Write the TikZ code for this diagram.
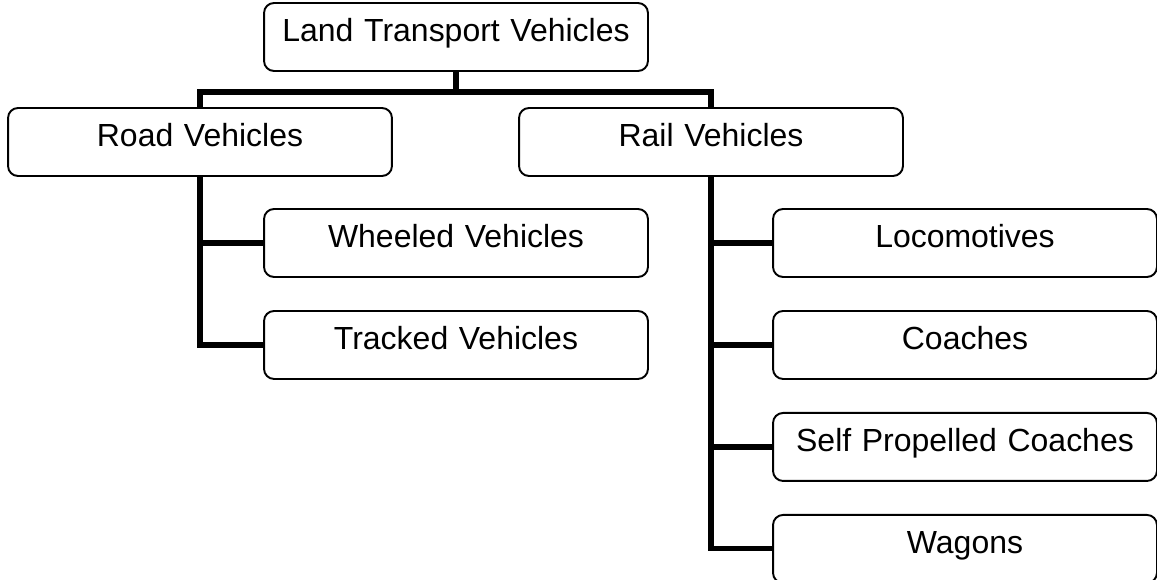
\documentclass[tikz,border=0pt]{standalone}
\usepackage{fontspec}
\setmainfont{Liberation Sans}
\usepackage{tikz}
\usetikzlibrary{positioning}
\tikzstyle{category} = [rectangle, rounded corners=0.2cm, draw=black, line width=1.1pt, fill=white, inner sep=0pt, outer sep=0pt, minimum width=7.68cm, text width=7.68cm, align=center, text height=0.78cm, text depth=0.58cm, font=\fontsize{18.2pt}{22pt}\selectfont]
\tikzstyle{conn} = [line width=2.9pt, black]

\begin{document}
\begin{tikzpicture}[x=0.02cm, y=-0.02cm]
\useasboundingbox (0,0) rectangle (1157,580);

\node (land) [category] at (456,37)
	{Land Transport Vehicles};
\node (road) [category] at (200,142)
	{Road Vehicles};
\node (rail) [category] at (711,142)
	{Rail Vehicles};

\node (wheeled) [category] at (456,243)
	{Wheeled Vehicles};
\node (tracked) [category, below=0.68cm of wheeled]
	{Tracked Vehicles};

\node (loco) [category] at (965,243)
	{Locomotives};
\node (coach) [category, below=0.68cm of loco]
	{Coaches};
\node (selfprop) [category, below=0.68cm of coach]
	{Self Propelled Coaches};
\node (wagon) [category, below=0.68cm of selfprop]
	{Wagons};

\draw [conn] (land.south) -- ++(0,21) -| (road.north);
\draw [conn] (land.south) -- ++(0,21) -| (rail.north);

\draw [conn] (road.south) |- (wheeled.west);
\draw [conn] (road.south) |- (tracked.west);

\draw [conn] (rail.south) |- (loco.west);
\draw [conn] (rail.south) |- (coach.west);
\draw [conn] (rail.south) |- (selfprop.west);
\draw [conn] (rail.south) |- (wagon.west);

\end{tikzpicture}
\end{document}
